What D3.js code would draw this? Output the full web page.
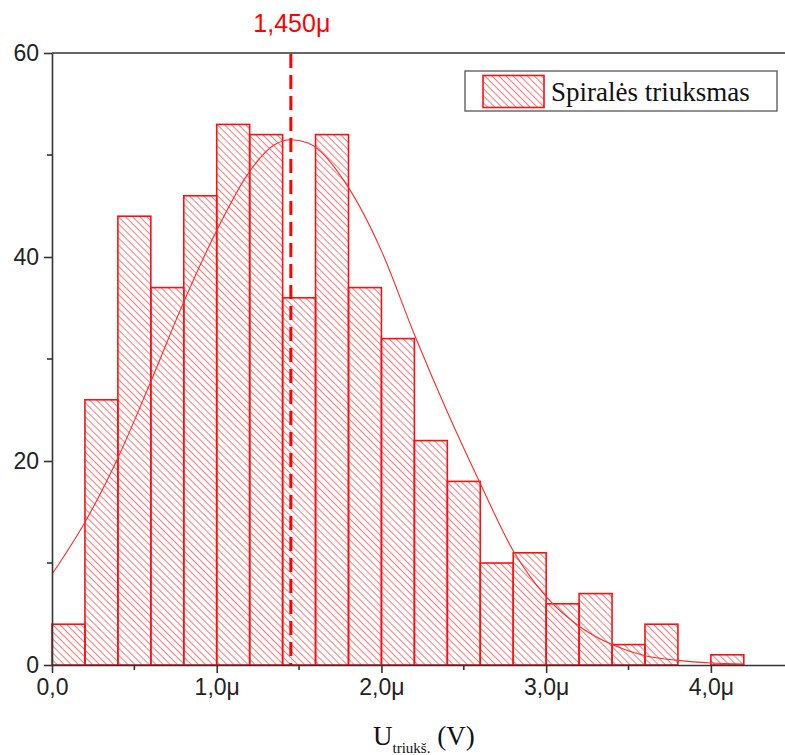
<!DOCTYPE html>
<html>
<head>
<meta charset="utf-8">
<script src="https://cdn.jsdelivr.net/npm/d3@7"></script>
<style>
  body { margin: 0; background: #fff; }
  svg { display: block; }
</style>
</head>
<body>
<div id="chart"></div>
<script>
// Histogram bins (lower edge, in μV) and counts
const binStarts = [0.0, 0.2, 0.4, 0.6, 0.8, 1.0, 1.2, 1.4, 1.6, 1.8, 2.0, 2.2, 2.4, 2.6, 2.8, 3.0, 3.2, 3.4, 3.6, 3.8, 4.0];
const binCounts = [4, 26, 44, 37, 46, 53, 52, 36, 52, 37, 32, 22, 18, 10, 11, 6, 7, 2, 4, 0, 1];
const binWidth = 0.2;

// Fitted curve
const fitX = [0.0, 0.2, 0.4, 0.6, 0.8, 1.0, 1.2, 1.35, 1.45, 1.55, 1.8, 2.0, 2.2, 2.4, 2.6, 2.8, 3.0, 3.2, 3.4, 3.6, 3.8, 4.0, 4.2];
const fitY = [8.9, 14.0, 20.3, 27.8, 35.6, 42.6, 48.4, 51.0, 51.5, 51.2, 46.8, 40.6, 32.4, 24.8, 17.8, 11.2, 6.7, 3.8, 2.0, 0.9, 0.45, 0.2, 0.1];

// Mean marker
const meanValue = 1.45;
const meanLabel = "1,450μ";

const xTicks = [0, 1, 2, 3, 4];
const xMinorTicks = [0.5, 1.5, 2.5, 3.5];
const yTicks = [0, 20, 40, 60];
const yMinorTicks = [10, 30, 50];

const seriesName = "Spiralės triuksmas";

const width = 785, height = 755;
const margin = {top: 53, right: 0, bottom: 90, left: 52};

const svg = d3.select("#chart").append("svg")
    .attr("width", width)
    .attr("height", height);

// Hatch pattern (lines running top-left to bottom-right)
const defs = svg.append("defs");
defs.append("pattern")
    .attr("id", "hatch")
    .attr("patternUnits", "userSpaceOnUse")
    .attr("width", 5)
    .attr("height", 5)
    .attr("patternTransform", "rotate(-45)")
    .append("line")
    .attr("x1", 0).attr("y1", 0)
    .attr("x2", 0).attr("y2", 5)
    .attr("stroke", "#ff2020")
    .attr("stroke-width", 1.2);

defs.append("clipPath")
    .attr("id", "plotClip")
    .append("rect")
    .attr("x", margin.left)
    .attr("y", margin.top)
    .attr("width", width - margin.left)
    .attr("height", height - margin.bottom - margin.top);

const x = d3.scaleLinear()
    .domain([0, 4.45])
    .range([margin.left, width - margin.right]);

const y = d3.scaleLinear()
    .domain([0, 60])
    .range([height - margin.bottom, margin.top]);

const axisColor = "#333";
const fmtX = d => d === 0 ? "0,0" : d.toFixed(1).replace(".", ",") + "μ";

// Bars
const bars = binStarts.map((s, i) => ({x0: s, x1: s + binWidth, n: binCounts[i]}))
    .filter(d => d.n > 0);

svg.append("g")
    .selectAll("rect")
    .data(bars)
    .join("rect")
    .attr("x", d => x(d.x0))
    .attr("y", d => y(d.n))
    .attr("width", d => x(d.x1) - x(d.x0))
    .attr("height", d => y(0) - y(d.n))
    .attr("fill", "url(#hatch)")
    .attr("stroke", "#ff1010")
    .attr("stroke-width", 1.6);

// Fit curve
const line = d3.line()
    .x(d => x(d[0]))
    .y(d => y(d[1]))
    .curve(d3.curveMonotoneX);

svg.append("path")
    .datum(fitX.map((v, i) => [v, fitY[i]]))
    .attr("clip-path", "url(#plotClip)")
    .attr("d", line)
    .attr("fill", "none")
    .attr("stroke", "#ff2a2a")
    .attr("stroke-width", 1.1);

// Mean dashed line
svg.append("line")
    .attr("x1", x(meanValue)).attr("x2", x(meanValue))
    .attr("y1", y(60) + 1).attr("y2", y(0))
    .attr("stroke", "#ff0000")
    .attr("stroke-width", 3)
    .attr("stroke-dasharray", "14,7");

svg.append("text")
    .attr("x", x(meanValue) + 1)
    .attr("y", 32)
    .attr("text-anchor", "middle")
    .attr("fill", "#ff0000")
    .style("font-family", "'Liberation Sans', Arial, sans-serif")
    .style("font-size", "25px")
    .text(meanLabel);

// Axes
const xAxis = d3.axisBottom(x)
    .tickValues(xTicks)
    .tickFormat(fmtX)
    .tickSizeInner(8)
    .tickSizeOuter(0)
    .tickPadding(6);

const gx = svg.append("g")
    .attr("transform", `translate(0, ${y(0)})`)
    .call(xAxis);

gx.selectAll(".minor")
    .data(xMinorTicks)
    .join("line")
    .attr("class", "minor")
    .attr("x1", d => x(d)).attr("x2", d => x(d))
    .attr("y1", 0).attr("y2", 5);

const yAxis = d3.axisLeft(y)
    .tickValues(yTicks)
    .tickSizeInner(8)
    .tickSizeOuter(0)
    .tickPadding(5);

const gy = svg.append("g")
    .attr("transform", `translate(${x(0)}, 0)`)
    .call(yAxis);

gy.selectAll(".minor")
    .data(yMinorTicks)
    .join("line")
    .attr("class", "minor")
    .attr("x1", 0).attr("x2", -5)
    .attr("y1", d => y(d)).attr("y2", d => y(d));

[gx, gy].forEach(g => {
    g.select(".domain").attr("stroke", axisColor).attr("stroke-width", 1.6);
    g.selectAll("line").attr("stroke", axisColor).attr("stroke-width", 1.6);
    g.selectAll("text")
        .attr("fill", "#222")
        .style("font-family", "'Liberation Sans', Arial, sans-serif")
        .style("font-size", "23px");
});

// Top frame line
svg.append("line")
    .attr("x1", x(0)).attr("x2", width)
    .attr("y1", y(60)).attr("y2", y(60))
    .attr("stroke", axisColor)
    .attr("stroke-width", 1.6);

// X axis title
const title = svg.append("text")
    .attr("x", 373)
    .attr("y", 745)
    .attr("fill", "#111")
    .style("font-family", "'Liberation Serif', 'Times New Roman', serif")
    .style("font-size", "27px");
title.append("tspan").text("U");
title.append("tspan")
    .attr("dy", 8)
    .style("font-size", "15px")
    .text("triukš.");
title.append("tspan")
    .attr("dy", -8)
    .text(" (V)");

// Legend
const legend = svg.append("g").attr("transform", "translate(465, 71)");
legend.append("rect")
    .attr("width", 312)
    .attr("height", 40)
    .attr("fill", "#fff")
    .attr("stroke", "#555")
    .attr("stroke-width", 1.3);
legend.append("rect")
    .attr("x", 18)
    .attr("y", 4.5)
    .attr("width", 61)
    .attr("height", 32)
    .attr("fill", "url(#hatch)")
    .attr("stroke", "#ff1010")
    .attr("stroke-width", 1.6);
legend.append("text")
    .attr("x", 86)
    .attr("y", 30)
    .attr("fill", "#111")
    .style("font-family", "'Liberation Serif', 'Times New Roman', serif")
    .style("font-size", "27px")
    .text(seriesName);
</script>
</body>
</html>
